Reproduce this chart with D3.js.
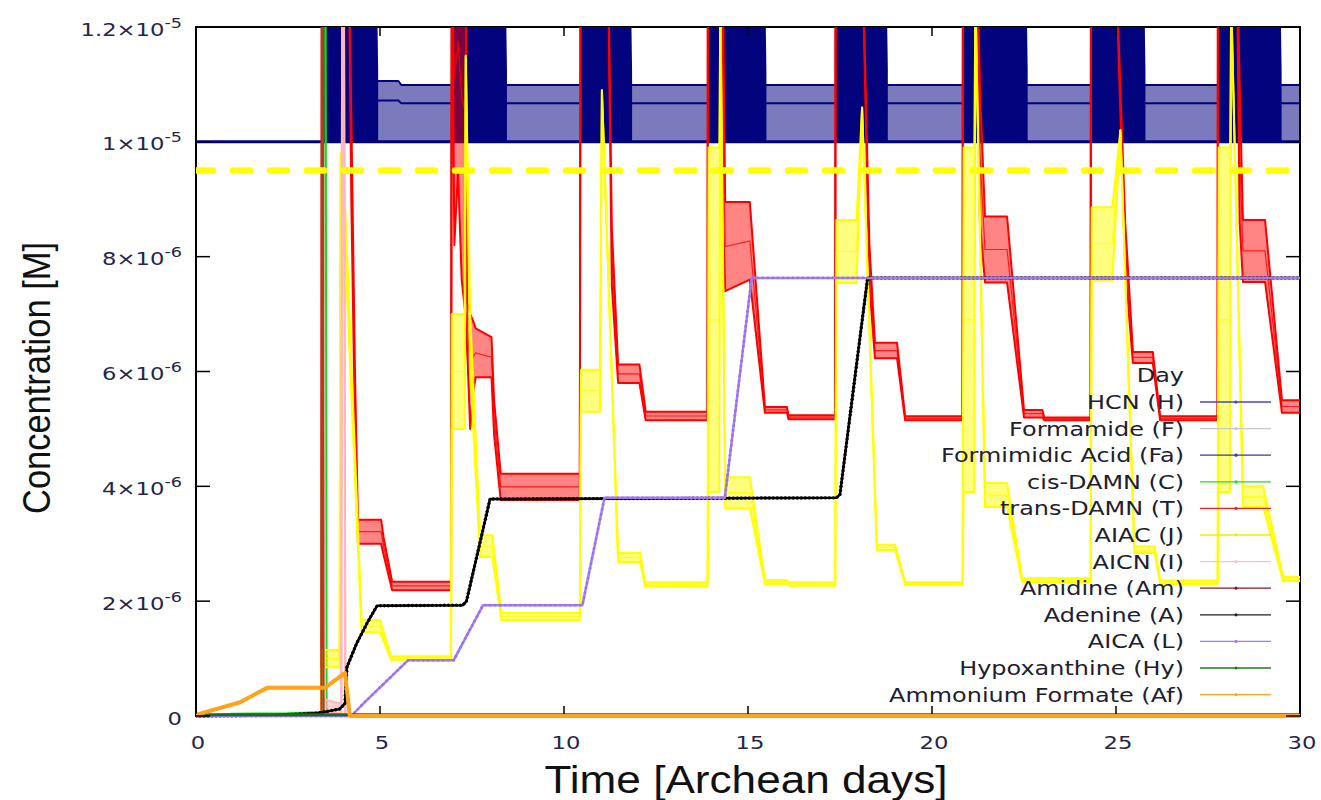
<!DOCTYPE html>
<html>
<head>
<meta charset="utf-8" />
<title>Concentration vs time</title>
<script src="https://d3js.org/d3.v7.min.js"></script>
<style>
    body { margin: 0; background: #fff; }
    svg { display: block; }
</style>
</head>
<body>
<svg width="1321" height="800"></svg>
<script>
// time in Archean days, concentrations in units of 1e-6 M
const UNIT = 1e-6

const xTicks = [0, 5, 10, 15, 20, 25, 30]
const yTicks = [0, 2e-6, 4e-6, 6e-6, 8e-6, 1e-5, 1.2e-5]
const yTickBase = ['0', '2×10', '4×10', '6×10', '8×10', '1×10', '1.2×10']
const yTickExp = ['', '-6', '-6', '-6', '-6', '-5', '-5']

const legendTitle = 'Day'
const seriesNames = ['HCN (H)', 'Formamide (F)', 'Formimidic Acid (Fa)', 'cis-DAMN (C)', 'trans-DAMN (T)', 'AIAC (J)',
    'AICN (I)', 'Amidine (Am)', 'Adenine (A)', 'AICA (L)', 'Hypoxanthine (Hy)', 'Ammonium Formate (Af)']
const legendColors = ['#4343cc', '#c8c8c8', '#3a3a9c', '#22dd22', '#ff1a1a', '#eeee00',
    '#ffc0cb', '#8b1a1a', '#222222', '#a47cf0', '#1f7a1f', '#ffa31a']

// HCN: base line, upper envelope and inner line of the band, burst periods [start, end]
const hcnBase = [[0, 10], [30, 10]]
const hcnUpper = [[3.42, 11.06], [5.5, 11.06], [5.58, 10.99], [30, 10.99]]
const hcnInner = [[3.42, 10.72], [5.5, 10.72], [5.58, 10.67], [30, 10.67]]
const hcnBursts = [[3.42, 4.95], [6.94, 8.45], [10.45, 11.85], [13.91, 15.5], [17.38, 18.8], [20.84, 22.6], [24.32, 25.8], [27.77, 29.5]]

const formamide = [[0, 0], [30, 0]]
const formimidic = [[0, 0], [30, 0]]

const cisDamn = [[0, 0], [1.0, 0.04], [2.5, 0.05], [3.44, 0.07], [3.47, 14], [3.52, 14], [3.55, 0], [30, 0]]

// trans-DAMN band [t, low, high]
const transDamn = [
    [0, 0, 0], [3.41, 0, 0],
    [3.42, 14, 14], [4.14, 14, 14], [4.22, 9.0, 10.5], [4.32, 5.0, 6.0], [4.4, 3.0, 3.42], [5.03, 3.0, 3.42],
    [5.1, 2.8, 3.1], [5.33, 2.19, 2.34], [6.93, 2.19, 2.34],
    [6.95, 14, 14], [7.02, 8.2, 14], [7.12, 9.5, 14], [7.22, 7.6, 14], [7.32, 7.0, 14], [7.38, 6.2, 7.2], [7.45, 5.0, 7.0],
    [7.52, 5.6, 6.9], [7.6, 5.9, 6.75], [8.03, 5.9, 6.6], [8.1, 4.9, 5.5], [8.28, 3.76, 4.22], [10.43, 3.76, 4.22],
    [10.45, 14, 14], [11.18, 14, 14], [11.3, 7.5, 8.5], [11.47, 5.8, 6.12], [12.05, 5.8, 6.12], [12.22, 5.15, 5.3], [13.9, 5.15, 5.3],
    [13.91, 14, 14], [14.28, 14, 14], [14.33, 8.5, 12], [14.38, 7.4, 8.95], [15.05, 7.6, 8.95], [15.46, 5.28, 5.38],
    [16.06, 5.28, 5.38], [16.1, 5.17, 5.24], [17.37, 5.17, 5.24],
    [17.38, 14, 14], [18.08, 14, 14], [18.3, 7.5, 8.2], [18.45, 6.23, 6.5], [19.05, 6.23, 6.5], [19.27, 5.15, 5.22], [20.83, 5.15, 5.22],
    [20.84, 14, 14], [21.2, 14, 14], [21.3, 8.6, 11], [21.44, 7.55, 8.7], [22.04, 7.55, 8.7], [22.5, 5.2, 5.33],
    [23.0, 5.2, 5.33], [23.05, 5.15, 5.2], [24.31, 5.15, 5.2],
    [24.32, 14, 14], [24.95, 14, 14], [25.25, 7.8, 8.6], [25.46, 6.15, 6.34], [26.0, 6.15, 6.34], [26.2, 5.15, 5.22], [27.76, 5.15, 5.22],
    [27.77, 14, 14], [28.27, 14, 14], [28.36, 8.6, 11], [28.45, 7.56, 8.64], [29.05, 7.56, 8.64], [29.51, 5.28, 5.5], [30, 5.28, 5.5]
]

// AIAC band [t, low, high]
const aiac = [
    [0, 0, 0], [3.41, 0, 0],
    [3.42, 0.85, 1.15], [3.9, 0.85, 1.15], [3.93, 9.8, 9.8], [4.02, 8.6, 9.4], [4.5, 1.46, 1.67], [5.0, 1.46, 1.67],
    [5.3, 0.98, 1.04], [6.93, 0.98, 1.04],
    [6.95, 5.0, 7.0], [7.3, 5.0, 7.0], [7.33, 11.5, 11.5], [7.45, 6.0, 7.0], [7.72, 2.77, 3.15], [8.05, 2.77, 3.15],
    [8.3, 1.67, 1.8], [10.43, 1.67, 1.8],
    [10.46, 5.3, 6.03], [10.98, 5.3, 6.03], [11.03, 10.9, 10.9], [11.47, 2.68, 2.84], [12.07, 2.68, 2.84],
    [12.2, 2.26, 2.33], [13.9, 2.26, 2.33],
    [13.93, 3.9, 9.9], [14.22, 3.9, 9.9], [14.25, 12.5, 12.5], [14.38, 3.62, 4.16], [15.05, 3.62, 4.16],
    [15.46, 2.3, 2.37], [16.06, 2.3, 2.37], [16.1, 2.27, 2.33], [17.37, 2.27, 2.33],
    [17.4, 7.54, 8.64], [17.95, 7.54, 8.64], [18.1, 10.6, 10.6], [18.5, 2.89, 2.98], [19.0, 2.89, 2.98],
    [19.27, 2.28, 2.33], [20.83, 2.28, 2.33],
    [20.86, 3.9, 9.9], [21.15, 3.9, 9.9], [21.18, 12.5, 12.5], [21.44, 3.64, 4.06], [22.04, 3.64, 4.06],
    [22.45, 2.33, 2.4], [24.31, 2.33, 2.4],
    [24.34, 7.59, 8.86], [24.9, 7.59, 8.86], [25.12, 10.2, 10.2], [25.5, 2.84, 2.95], [26.05, 2.84, 2.95],
    [26.2, 2.3, 2.36], [27.76, 2.3, 2.36],
    [27.79, 3.9, 9.9], [28.1, 3.9, 9.9], [28.13, 12.5, 12.5], [28.45, 3.64, 4.0], [29.0, 3.64, 4.0],
    [29.54, 2.35, 2.42], [30, 2.35, 2.42]
]

// AICN band [t, low, high]
const aicn = [[0, 0, 0], [3.42, 0, 0], [3.43, 0.08, 0.3], [3.9, 0.05, 0.22], [3.95, 0.05, 0.25], [3.97, 13, 13], [4.02, 13, 13], [4.06, 0, 0], [30, 0, 0]]

const amidine = [[0, 0], [3.41, 0], [3.42, 14], [3.45, 14], [3.47, 0], [30, 0]]

const adenine = [[0, 0], [2.0, 0.01], [3.3, 0.05], [3.9, 0.12], [4.05, 0.22], [4.1, 0.85], [4.37, 1.27], [4.65, 1.62],
    [4.92, 1.92], [7.25, 1.93], [7.35, 2.0], [7.99, 3.78], [17.4, 3.8], [17.5, 3.86], [18.25, 7.63], [30, 7.63]]

const aica = [[0, 0], [4.22, 0], [4.6, 0.25], [5.76, 0.97], [7.0, 0.97], [7.8, 1.93], [10.5, 1.93], [11.1, 3.8],
    [14.37, 3.8], [15.1, 7.63], [30, 7.63]]

const hypoxanthine = [[0, 0.02], [30, 0.02]]

const ammoniumFormate = [[0, 0.02], [1.2, 0.24], [1.93, 0.49], [3.5, 0.49], [4.05, 0.75], [4.18, 0], [30, 0]]

const thresholdLevel = 9.5 // dashed reference line, 1e-6 M

const svg = d3.select('svg')
const x = d3.scaleLinear().domain([0, 30]).range([196, 1300])
const y = d3.scaleLinear().domain([0, 1.2e-5]).range([716, 27])

svg.append('defs').append('clipPath').attr('id', 'clip')
    .append('rect').attr('x', 196).attr('y', 27).attr('width', 1106).attr('height', 693)

// border first, the curves sit on top of it
svg.append('rect').attr('x', 196).attr('y', 27).attr('width', 1104).attr('height', 689)
    .attr('fill', 'none').attr('stroke', '#000').attr('stroke-width', 2)

const plot = svg.append('g').attr('clip-path', 'url(#clip)')

const lineOf = (i) => d3.line().x((d) => x(d[0])).y((d) => y(d[i] * UNIT))
const midLine = d3.line().x((d) => x(d[0])).y((d) => y(((d[1] + d[2]) / 2) * UNIT))
const areaOf = d3.area().x((d) => x(d[0])).y0((d) => y(d[1] * UNIT)).y1((d) => y(d[2] * UNIT))

function drawLine(data, color, width) {
    return plot.append('path').datum(data).attr('d', lineOf(1))
        .attr('fill', 'none').attr('stroke', color).attr('stroke-width', width)
        .attr('stroke-linejoin', 'round')
}

function drawBand(data, color, fillColor) {
    plot.append('path').datum(data).attr('d', areaOf).attr('fill', fillColor)
    plot.append('path').datum(data).attr('d', midLine)
        .attr('fill', 'none').attr('stroke', color).attr('stroke-width', 1.2).attr('opacity', 0.8)
    ;[1, 2].forEach((i) => {
        plot.append('path').datum(data).attr('d', lineOf(i))
            .attr('fill', 'none').attr('stroke', color).attr('stroke-width', 2)
            .attr('stroke-linejoin', 'round')
    })
}

function beads(path, color, step, r) {
    const node = path.node()
    const len = node.getTotalLength()
    for (let l = 0; l < len; l += step) {
        const p = node.getPointAtLength(l)
        plot.append('circle').attr('cx', p.x).attr('cy', p.y).attr('r', r).attr('fill', color)
    }
}

// HCN
const navy = '#000080'
plot.append('path').datum(hcnUpper.map((d) => [d[0], 10, d[1]]))
    .attr('d', areaOf).attr('fill', navy).attr('fill-opacity', 0.52)
drawLine(hcnUpper, navy, 2)
drawLine(hcnInner, navy, 2)
hcnBursts.forEach((b) => {
    const pts = [[b[0], 10, 13], [b[1] - 0.04, 10, 13], [b[1], 10, 11.25]]
    plot.append('path').datum(pts).attr('d', areaOf).attr('fill', '#03037e')
})
drawLine(hcnBase, navy, 3)

drawLine(formamide, legendColors[1], 1.5)
drawLine(formimidic, legendColors[2], 1.5)
drawLine(cisDamn, '#11dd11', 2)

drawBand(transDamn, '#ff0000', 'rgba(255,0,0,0.48)')
drawBand(aiac, '#ffff00', 'rgba(255,255,0,0.5)')
drawBand(aicn, '#ffb6c1', 'rgba(255,182,193,0.6)')

drawLine(amidine, '#a0441e', 2)
const adeninePath = drawLine(adenine, '#000000', 2.5)
beads(adeninePath, '#000000', 4, 1.7)
const aicaPath = drawLine(aica, '#a47cf0', 2.5)
beads(aicaPath, '#9a70ee', 5, 1.4)
drawLine(hypoxanthine, '#1f6a1f', 3)
drawLine(ammoniumFormate, '#ffa31a', 4)

// dashed reference line
plot.append('path').datum([[0, thresholdLevel], [30, thresholdLevel]]).attr('d', lineOf(1))
    .attr('stroke', '#ffff00').attr('stroke-width', 6.5).attr('stroke-dasharray', '17,20')
    .attr('stroke-linecap', 'round').attr('fill', 'none')

// ticks (mirrored on all four sides)
const ticks = svg.append('g').attr('stroke', '#000').attr('stroke-width', 1.5)
xTicks.forEach((t) => {
    ticks.append('line').attr('x1', x(t)).attr('x2', x(t)).attr('y1', 714).attr('y2', 706)
    ticks.append('line').attr('x1', x(t)).attr('x2', x(t)).attr('y1', 27).attr('y2', 36)
})
yTicks.forEach((v) => {
    ticks.append('line').attr('x1', 196).attr('x2', 210).attr('y1', y(v)).attr('y2', y(v))
    ticks.append('line').attr('x1', 1300).attr('x2', 1286).attr('y1', y(v)).attr('y2', y(v))
})

const labelFont = 'DejaVu Sans, Verdana, sans-serif'
const stretch = 1.26

yTicks.forEach((v, i) => {
    const g = svg.append('g').attr('transform', `translate(182, ${y(v) + 8.5}) scale(${stretch}, 1)`)
    const t = g.append('text').attr('text-anchor', 'end').attr('font-family', labelFont)
        .attr('font-size', 18).attr('fill', '#26264a')
    t.append('tspan').text(yTickBase[i])
    if (yTickExp[i]) t.append('tspan').attr('dy', -8).attr('font-size', 14).text(yTickExp[i])
})

xTicks.forEach((v) => {
    svg.append('g').attr('transform', `translate(${x(v) + 2}, 749) scale(${stretch}, 1)`)
        .append('text').attr('text-anchor', 'middle').attr('font-family', labelFont)
        .attr('font-size', 18).attr('fill', '#26264a').text(v)
})

// axis titles
svg.append('text').attr('x', 746).attr('y', 793).attr('text-anchor', 'middle')
    .attr('font-family', 'Liberation Sans, Arial, sans-serif').attr('font-size', 38)
    .attr('textLength', 403).attr('lengthAdjust', 'spacingAndGlyphs').attr('fill', '#111')
    .text('Time [Archean days]')

svg.append('text').attr('transform', 'translate(50, 378) rotate(-90)').attr('text-anchor', 'middle')
    .attr('font-family', 'Liberation Sans, Arial, sans-serif').attr('font-size', 38)
    .attr('textLength', 272).attr('lengthAdjust', 'spacingAndGlyphs').attr('fill', '#111')
    .text('Concentration [M]')

// legend
const legend = svg.append('g')
const legendText = (txt, yc) => {
    legend.append('g').attr('transform', `translate(1184, ${yc + 7}) scale(${stretch}, 1)`)
        .append('text').attr('text-anchor', 'end').attr('font-family', labelFont)
        .attr('font-size', 19).attr('fill', '#20202e').text(txt)
}
legendText(legendTitle, 375)
seriesNames.forEach((name, i) => {
    const yc = 402 + i * 26.6
    legendText(name, yc)
    legend.append('line').attr('x1', 1200).attr('x2', 1271).attr('y1', yc).attr('y2', yc)
        .attr('stroke', legendColors[i]).attr('stroke-width', 1.3)
    legend.append('circle').attr('cx', 1236).attr('cy', yc).attr('r', 1.6).attr('fill', legendColors[i])
})
</script>
</body>
</html>
